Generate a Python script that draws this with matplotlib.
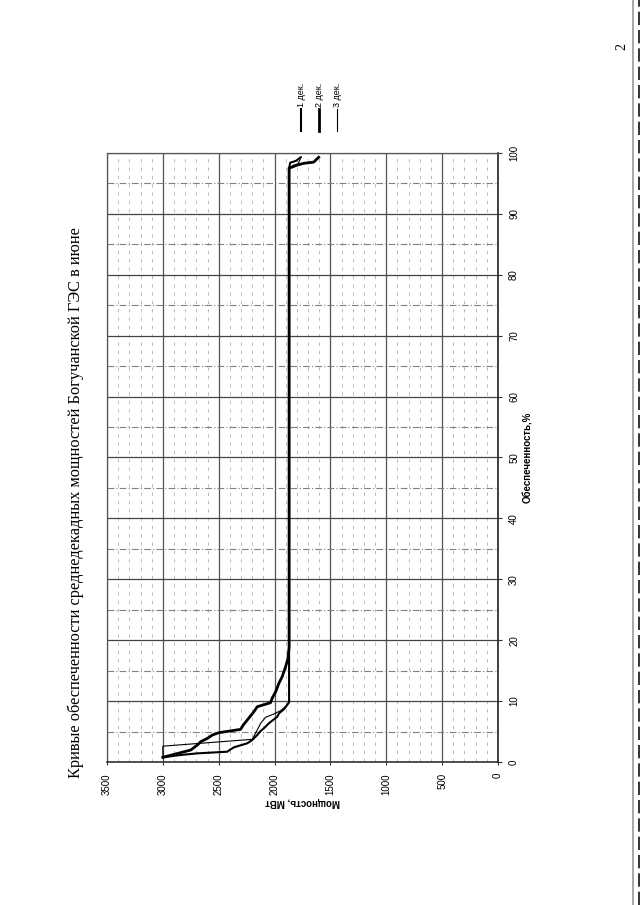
import matplotlib
matplotlib.use("Agg")
import matplotlib.pyplot as plt
from matplotlib.lines import Line2D
import numpy as np

# Обеспеченность, % and average ten-day power, MW, for each decade of June
dek1_pct = [0.77, 1.15, 1.42, 1.69, 2.00, 2.41, 3.07, 3.61, 4.43, 5.00, 5.53, 6.35, 7.44, 8.00, 8.65, 9.80,
            97.5, 98.4, 98.7, 99.3]
dek1_mw = [3000, 2840, 2691, 2423, 2400, 2364, 2244, 2200, 2155, 2130, 2096, 2051, 1976, 1960, 1917, 1870,
           1870, 1860, 1810, 1765]

dek2_pct = [0.77, 1.97, 2.79, 3.34, 3.88, 4.43, 4.81, 5.36, 6.08, 6.90, 8.26, 9.08, 9.74, 10.5, 11.5, 12.9,
            14.0, 15.6, 17.0, 18.9, 97.5, 98.0, 98.3, 98.5, 99.3]
dek2_mw = [3000, 2750, 2691, 2661, 2601, 2557, 2500, 2304, 2280, 2244, 2185, 2155, 2036, 2021, 1991, 1962,
           1932, 1902, 1880, 1870, 1870, 1800, 1740, 1650, 1605]

dek3_pct = [0.77, 2.60, 3.72, 5.25, 6.35, 7.33, 7.88, 8.43, 9.08, 9.80, 97.5, 98.0, 98.2, 99.0]
dek3_mw = [3000, 3000, 2200, 2155, 2125, 2081, 2007, 1947, 1902, 1870, 1870, 1830, 1790, 1770]

series_labels = ["1 дек.", "2 дек.", "3 дек."]
power_ticks = [0, 500, 1000, 1500, 2000, 2500, 3000, 3500]
pct_ticks = [0, 10, 20, 30, 40, 50, 60, 70, 80, 90, 100]

title = "Кривые обеспеченности среднедекадных мощностей Богучанской ГЭС в июне"
power_label = "Мощность, МВт"
pct_label = "Обеспеченность,%"

W, H = 640, 905
fig = plt.figure(figsize=(W / 100, H / 100), dpi=100)
fig.patch.set_facecolor("white")

def fx(px):
    return px / W

def fy(py):
    return 1 - py / H

# plot area (page is turned: power runs right-to-left, обеспеченность runs upward)
ax = fig.add_axes([fx(107), fy(762), fx(498) - fx(107), (762 - 153) / H])
ax.set_xlim(3500, 0)
ax.set_ylim(0, 100)

ax.set_xticks(power_ticks)
ax.set_xticks(np.arange(0, 3501, 100), minor=True)
ax.set_yticks(pct_ticks)
ax.set_yticks(np.arange(0, 101, 5), minor=True)
ax.yaxis.tick_right()
ax.yaxis.set_label_position("right")

tick_font = dict(family="Liberation Sans", size=7)
ax.set_xticklabels([str(v) for v in power_ticks], rotation=90, **tick_font)
ax.set_yticklabels([str(v) for v in pct_ticks], rotation=90, va="center", **tick_font)
ax.tick_params(axis="x", which="major", length=2, pad=6, color="#333333")
ax.tick_params(axis="y", which="major", length=3, pad=5, color="#333333")
ax.tick_params(which="minor", length=0)

# grid
ax.yaxis.grid(True, which="major", color="#444444", lw=0.9, ls="-")
ax.yaxis.grid(True, which="minor", color="#808080", lw=0.8, ls=(0, (6, 2, 1, 2)))
ax.xaxis.grid(True, which="major", color="#555555", lw=0.9, ls="-")
ax.xaxis.grid(True, which="minor", color="#b0b0b0", lw=0.6, ls=(0, (4, 6)))
ax.set_axisbelow(True)

for side in ["left", "top"]:
    ax.spines[side].set_color("#555555")
    ax.spines[side].set_linewidth(0.9)
ax.spines["right"].set_color("#222222")
ax.spines["right"].set_linewidth(1.2)
ax.spines["bottom"].set_color("#222222")
ax.spines["bottom"].set_linewidth(1.1)

# curves
widths = [1.5, 2.0, 0.8]
ax.plot(dek1_mw, dek1_pct, color="black", lw=widths[0], solid_joinstyle="round")
ax.plot(dek2_mw, dek2_pct, color="black", lw=widths[1], solid_joinstyle="round")
ax.plot(dek3_mw, dek3_pct, color="black", lw=widths[2], solid_joinstyle="round")

# axis titles
ax.set_xlabel(power_label, family="Liberation Sans", weight="bold", size=7, rotation=180, labelpad=2)
ax.set_ylabel(pct_label, family="Liberation Sans", weight="bold", size=7, rotation=90, labelpad=3)

# chart title
fig.text(fx(76), fy(503), title, rotation=90, ha="center", va="center",
         family="Liberation Serif", size=11.8)

# legend (turned with the page)
leg_x = [301, 319, 337]
for x, lab, lw in zip(leg_x, series_labels, widths):
    fig.add_artist(Line2D([fx(x), fx(x)], [fy(131), fy(109)], color="black", lw=lw,
                          transform=fig.transFigure))
    fig.text(fx(x), fy(107), lab, rotation=90, ha="center", va="bottom",
             family="Liberation Sans", size=6.5)

# page number
fig.text(fx(622), fy(46), "2", rotation=90, ha="center", va="center",
         family="Liberation Serif", size=10)

# binding edge of the sheet
fig.add_artist(Line2D([fx(633), fx(633)], [0, 1], color="#9a9a9a", lw=1.2, transform=fig.transFigure))
fig.add_artist(Line2D([fx(639), fx(639)], [0, 1], color="#111111", lw=1.2, ls=(0, (8, 3)),
                      transform=fig.transFigure))

fig.savefig("out.png", dpi=100, facecolor="white")
